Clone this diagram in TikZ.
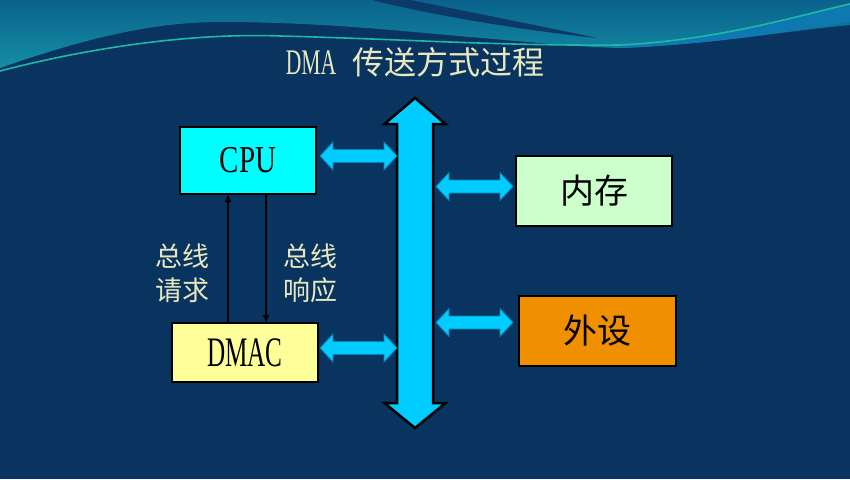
\documentclass[tikz,border=0pt]{standalone}
\usepackage{fontspec}
\setmainfont{Liberation Serif}
\newfontfamily\cjk{Noto Sans CJK SC}
\newfontfamily\condA[FakeStretch=0.6]{Liberation Serif}
\newfontfamily\condB[FakeStretch=0.76]{Liberation Serif}
\usetikzlibrary{arrows.meta,calc}
\definecolor{navy}{RGB}{10,52,96}
\definecolor{stripe}{RGB}{12,58,104}
\definecolor{tealtop}{RGB}{10,98,140}
\definecolor{tealbot}{RGB}{20,142,165}
\definecolor{wline}{RGB}{30,185,165}
\definecolor{wband}{RGB}{14,120,176}
\definecolor{pale}{RGB}{232,232,192}
\definecolor{cpuc}{RGB}{0,255,255}
\definecolor{dmacc}{RGB}{255,255,153}
\definecolor{memc}{RGB}{204,255,204}
\definecolor{perc}{RGB}{240,144,0}
\definecolor{busc}{RGB}{0,204,255}
\definecolor{arredge}{RGB}{0,130,180}
\tikzset{
  box/.style={draw=black, line width=2pt, inner sep=0pt},
  lbl/.style={text=pale, font=\cjk\fontsize{27}{34}\selectfont, align=center, inner sep=0pt},
  thinarr/.style={draw=black, line width=1.5pt, -{Triangle[length=7pt,width=6pt]}},
  smallarr/.style={fill=busc, draw=arredge, line width=0.8pt, line join=miter},
  busarr/.style={fill=busc, draw=black, line width=2.5pt, line join=miter}
}
\newcommand\hdarrow[2]{%
 \draw[smallarr] let \p1=(#1), \p2=(#2) in
 (\x1,\y1) -- (\x1+13pt,\y1+14pt) -- (\x1+13pt,\y1+6.5pt) -- (\x2-13pt,\y1+6.5pt)
 -- (\x2-13pt,\y1+14pt) -- (\x2,\y1) -- (\x2-13pt,\y1-14pt) -- (\x2-13pt,\y1-6.5pt)
 -- (\x1+13pt,\y1-6.5pt) -- (\x1+13pt,\y1-14pt) -- cycle;}
\begin{document}
\begin{tikzpicture}[x=1pt,y=-1pt]
\useasboundingbox (0,0) rectangle (850,479);
\fill[navy] (0,0) rectangle (850,479);
% top wave
\shade[top color=tealtop, bottom color=tealbot]
  (0,0) -- (850,0) -- (850,25) .. controls (780,32) and (700,45) .. (620,48)
  .. controls (580,47) and (540,43) .. (470,37)
  .. controls (400,31) and (320,22) .. (220,22)
  .. controls (150,22) and (80,40) .. (0,68) -- cycle;
\fill[wband] (620,45) .. controls (720,40) and (800,15) .. (850,4) -- (850,22)
  .. controls (790,31) and (720,44) .. (620,48) -- cycle;
\fill[stripe] (372,0) -- (410,0) .. controls (480,14) and (550,28) .. (597,38)
  .. controls (530,31) and (440,17) .. (372,0) -- cycle;
\draw[wline, line width=1.6pt] (0,71) .. controls (100,45) and (200,33) .. (280,36)
  .. controls (400,39) and (500,46) .. (620,45) .. controls (720,40) and (800,15) .. (850,4);
% title
\node[text=pale, inner sep=0pt] (title) at (415,62)
  {{\condA\fontsize{36}{36}\selectfont DMA}\hspace{16pt}{\cjk\fontsize{32}{32}\selectfont 传送方式过程}};
% boxes
\node[box, fill=cpuc, minimum width=136pt, minimum height=67pt] (cpu) at (248,160.5)
  {\raisebox{-5pt}{\condB\fontsize{38}{38}\selectfont CPU}};
\node[box, fill=dmacc, minimum width=146pt, minimum height=59pt] (dmac) at (245,352.5)
  {\raisebox{-8.5pt}{\condA\fontsize{42}{42}\selectfont DMAC}};
\node[box, fill=memc, minimum width=156pt, minimum height=70pt] (mem) at (594,191)
  {\raisebox{-2.5pt}{\cjk\fontsize{34}{34}\selectfont 内存}};
\node[box, fill=perc, minimum width=157pt, minimum height=70pt] (per) at (597.5,331)
  {\raisebox{-2.5pt}{\cjk\fontsize{34}{34}\selectfont 外设}};
% bus
\draw[busarr] (415,98) -- (445.5,124) -- (433,124) -- (433,403) -- (445.5,403) -- (415,428)
  -- (384.5,403) -- (397,403) -- (397,124) -- (384.5,124) -- cycle;
\coordinate (busL1) at (397,156);
\coordinate (busL2) at (397,348);
\coordinate (busR1) at (436,186.5);
\coordinate (busR2) at (436,322.5);
\coordinate (cpuE) at (320,156);
\coordinate (dmacE) at (320,348);
\coordinate (memW) at (513,186.5);
\coordinate (perW) at (513,322.5);
\hdarrow{cpuE}{busL1}
\hdarrow{dmacE}{busL2}
\hdarrow{busR1}{memW}
\hdarrow{busR2}{perW}
% request / acknowledge
\coordinate (rq) at (228,0);
\coordinate (ak) at (266,0);
\draw[thinarr] (rq |- dmac.north) -- (rq |- cpu.south);
\draw[thinarr] (ak |- cpu.south) -- (ak |- dmac.north);
\node[lbl] (req) at (182.5,273) {总线\\请求};
\node[lbl] (ack) at (310,273) {总线\\响应};
\end{tikzpicture}
\end{document}
